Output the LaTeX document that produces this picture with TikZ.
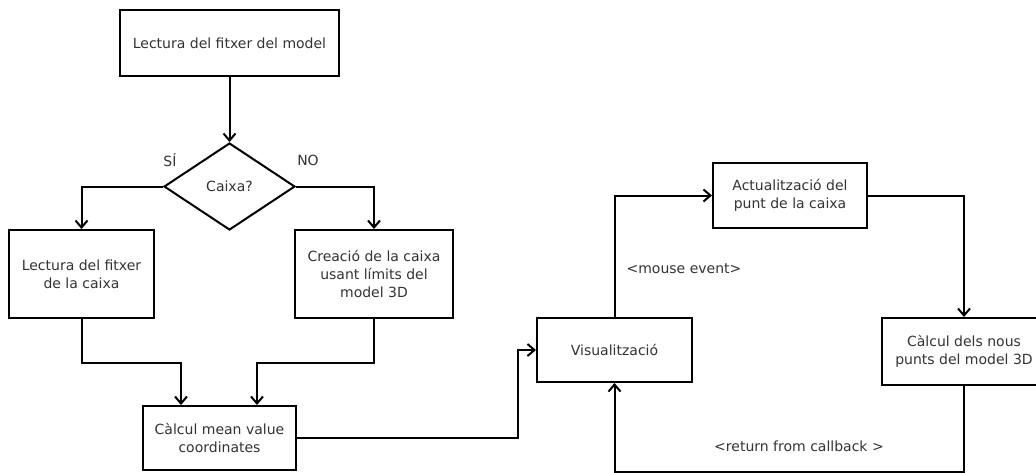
\documentclass[tikz,border=0pt]{standalone}
\usepackage{fontspec}
\setmainfont{DejaVu Sans}
\usetikzlibrary{shapes.geometric,arrows.meta}

\begin{document}
\begin{tikzpicture}[
        x=1pt, y=-1pt,
        font=\fontsize{14}{18}\selectfont,
        box/.style={
        rectangle, draw=black, line width=2pt,
        inner sep=0pt, align=center,
        text=black!80, fill=white},
        decision/.style={
        diamond, draw=black, line width=2pt,
        inner sep=0pt, aspect=1.5,
        minimum width=131pt, minimum height=87pt,
        text=black!80},
        flow/.style={
        draw=black, line width=2pt,
        -{Straight Barb[length=7pt,width=12pt]}},
        lbl/.style={text=black!80},
        ]

        \useasboundingbox (0,0) rectangle (1036,472);
        \clip (0,0) rectangle (1036,472);

        \node (model) [box, minimum width=219pt, minimum height=66pt] at (229.5,43) {Lectura del fitxer del model};
        \node (caixa) [decision] at (229.5,186.5) {Caixa?};
        \node (fitxcaixa) [box, minimum width=145pt, minimum height=88pt] at (81.5,274) {Lectura del fitxer\\de la caixa};
        \node (creacio) [box, minimum width=158pt, minimum height=88pt] at (374,274) {Creació de la caixa\\usant límits del\\model 3D};
        \node (mvc) [box, minimum width=153pt, minimum height=64pt] at (219.5,438) {Càlcul mean value\\coordinates};
        \node (visu) [box, minimum width=155pt, minimum height=64pt] at (614.5,350) {Visualització};
        \node (actual) [box, minimum width=154pt, minimum height=65pt] at (790,195.5) {Actualització del\\punt de la caixa};
        \node (nous) [box, minimum width=164pt, minimum height=67pt] at (964,351.5) {Càlcul dels nous\\punts del model 3D};

        \node (si) [lbl] at (170,160) {SÍ};
        \node (no) [lbl] at (308,160) {NO};
        \node (mouse) [lbl] at (684,269) {<mouse event>};
        \node (ret) [lbl] at (799,446) {<return from callback >};

        \draw[flow] (model) -- (caixa);
        \draw[flow] (caixa.west) -| (fitxcaixa.north);
        \draw[flow] (caixa.east) -| (creacio.north);
        \draw[flow] (fitxcaixa.south) -- ++(0,44) -| ([xshift=-38.5pt]mvc.north);
        \draw[flow] (creacio.south) -- ++(0,44) -| ([xshift=37.5pt]mvc.north);
        \draw[flow] (mvc.east) -- ++(221,0) |- (visu.west);
        \draw[flow] (visu.north) |- (actual.west);
        \draw[flow] (actual.east) -| (nous.north);
        \draw[flow] (nous.south) -- ++(0,86) -| (visu.south);
    \end{tikzpicture}
\end{document}
